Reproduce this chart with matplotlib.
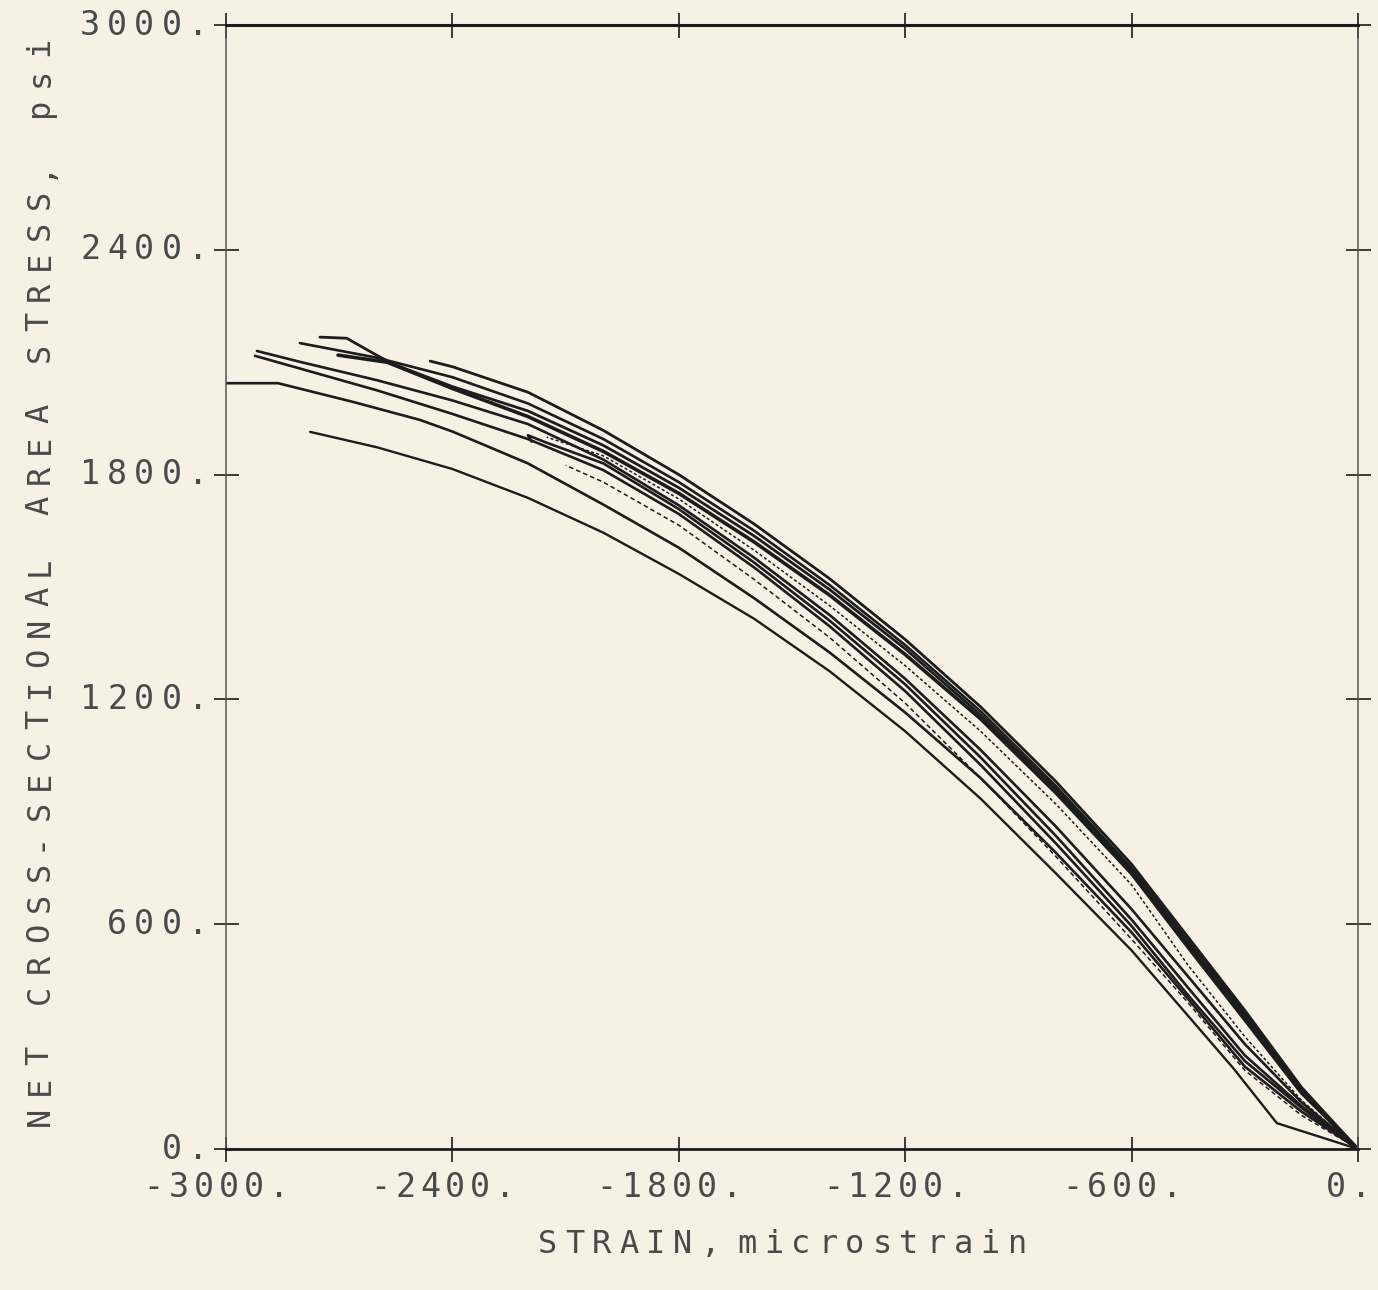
import matplotlib
matplotlib.use('Agg')
import matplotlib.pyplot as plt

# stress-strain curves, strain in microstrain, stress in psi
t1_strain = [0, -150, -300, -450, -600, -800, -1000, -1200, -1400, -1600, -1800, -2000, -2200, -2400, -2459]
t1_stress = [0, 165, 370, 565, 760, 980, 1180, 1360, 1522, 1668, 1800, 1918, 2020, 2088, 2103]

e2_strain = [0, -150, -300, -450, -600, -800, -1000, -1200, -1400, -1600, -1800, -2000, -2200, -2400, -2600, -2804]
e2_stress = [0, 160, 362, 555, 750, 968, 1168, 1345, 1505, 1650, 1780, 1895, 1990, 2060, 2112, 2151]

e1_strain = [0, -150, -300, -450, -600, -800, -1000, -1200, -1400, -1600, -1800, -2000, -2200, -2400, -2557, -2610, -2680, -2751]
e1_stress = [0, 155, 355, 548, 742, 960, 1158, 1335, 1493, 1636, 1765, 1878, 1970, 2035, 2095, 2124, 2164, 2167]

e7_strain = [0, -150, -300, -450, -600, -800, -1000, -1200, -1400, -1600, -1800, -2000, -2200, -2400, -2573, -2703]
e7_stress = [0, 150, 345, 538, 735, 950, 1148, 1320, 1478, 1620, 1750, 1862, 1955, 2030, 2100, 2119]

d1_strain = [0, -150, -300, -450, -600, -800, -1000, -1200, -1400, -1600, -1800, -2000, -2150]
d1_stress = [0, 130, 300, 490, 705, 920, 1115, 1290, 1450, 1598, 1735, 1850, 1900]

e3_strain = [0, -150, -300, -450, -600, -800, -1000, -1200, -1400, -1600, -1800, -2000, -2200, -2400, -2600, -2800, -2918]
e3_stress = [0, 125, 280, 460, 640, 860, 1065, 1255, 1425, 1578, 1718, 1840, 1935, 1998, 2052, 2100, 2130]

h_strain = [0, -150, -300, -450, -600, -800, -1000, -1200, -1400, -1600, -1800, -2000, -2150, -2200, -2190]
h_stress = [0, 115, 250, 430, 612, 835, 1045, 1240, 1410, 1565, 1708, 1830, 1885, 1905, 1888]

e4_strain = [0, -150, -300, -450, -600, -800, -1000, -1200, -1400, -1600, -1800, -2000, -2200, -2400, -2600, -2800, -2923]
e4_stress = [0, 110, 235, 410, 595, 815, 1025, 1222, 1395, 1552, 1695, 1812, 1895, 1962, 2025, 2082, 2117]

d2_strain = [0, -150, -300, -450, -600, -800, -1000, -1200, -1400, -1600, -1800, -2000, -2100]
d2_stress = [0, 90, 210, 390, 560, 780, 990, 1190, 1365, 1520, 1665, 1780, 1825]

e5_strain = [0, -150, -300, -450, -600, -800, -1000, -1200, -1400, -1600, -1800, -2000, -2200, -2400, -2486, -2663, -2862, -3100]
e5_stress = [0, 100, 220, 400, 578, 790, 990, 1165, 1325, 1470, 1605, 1720, 1830, 1915, 1946, 1994, 2044, 2044]

e6_strain = [0, -215, -330, -450, -600, -800, -1000, -1200, -1400, -1600, -1800, -2000, -2200, -2400, -2600, -2777]
e6_stress = [0, 69, 215, 355, 530, 735, 935, 1115, 1275, 1415, 1535, 1645, 1738, 1815, 1873, 1914]

xticks = [-3000, -2400, -1800, -1200, -600, 0]
xtick_labels = ['-3000.', '-2400.', '-1800.', '-1200.', '-600.', '0.']
yticks = [0, 600, 1200, 1800, 2400, 3000]
ytick_labels = ['0.', '600.', '1200.', '1800.', '2400.', '3000.']

paper = '#f6f1e4'
ink = '#1c1c1c'
text_col = '#4a4a4a'
font = 'DejaVu Sans Mono'


def spaced(ax, s, xy, coords, dx, dy, step, size, rotation=0, right=False, space=0.35):
    # plotter lettering: every character in its own cell (offsets in points)
    widths = [space if ch == ' ' else 1.0 for ch in s]
    total = sum(widths)
    pos = 0.0
    for ch, w in zip(s, widths):
        c = pos + w / 2
        pos += w
        if ch == ' ':
            continue
        off = (c - total) * step if right else (c - total / 2) * step
        if rotation == 0:
            xt, yt = dx + off, dy
        else:
            xt, yt = dx, dy + off
        ax.annotate(ch, xy=xy, xycoords=coords, xytext=(xt, yt),
                    textcoords='offset points', ha='center', va='center',
                    rotation=rotation, fontsize=size, family=font,
                    color=text_col, annotation_clip=False)


fig = plt.figure(figsize=(13.78, 12.9), dpi=100, facecolor=paper)
ax = fig.add_axes([0.164, 0.1093, 0.8215, 0.8713])
ax.set_facecolor(paper)

curves = [
    (t1_strain, t1_stress, '-', 2.0),
    (e2_strain, e2_stress, '-', 1.9),
    (e1_strain, e1_stress, '-', 2.0),
    (e7_strain, e7_stress, '-', 2.6),
    (d1_strain, d1_stress, (0, (2, 1.5)), 1.1),
    (e3_strain, e3_stress, '-', 1.9),
    (h_strain, h_stress, '-', 1.9),
    (e4_strain, e4_stress, '-', 1.9),
    (d2_strain, d2_stress, (0, (3, 2)), 1.1),
    (e5_strain, e5_stress, '-', 1.9),
    (e6_strain, e6_stress, '-', 1.7),
]
for xs, ys, ls, lw in curves:
    ax.plot(xs, ys, color=ink, linestyle=ls, linewidth=lw,
            solid_capstyle='round', solid_joinstyle='round')

ax.set_xlim(-3000, 0)
ax.set_ylim(0, 3000)
ax.set_xticks(xticks)
ax.set_yticks(yticks)
ax.tick_params(direction='inout', length=18, width=1.2, color=ink,
               top=True, right=True, labelbottom=False, labelleft=False)

ax.spines['top'].set_linewidth(2.2)
ax.spines['bottom'].set_linewidth(2.0)
ax.spines['left'].set_linewidth(1.1)
ax.spines['right'].set_linewidth(1.1)
ax.spines['top'].set_color(ink)
ax.spines['bottom'].set_color(ink)
ax.spines['left'].set_color('#555555')
ax.spines['right'].set_color('#555555')

# tick labels, drawn cell by cell like the pen plotter did
for v, lab in zip(xticks, xtick_labels):
    spaced(ax, lab, (v, 0), 'data', -7, -28, 18, 24, space=1.0)
for v, lab in zip(yticks, ytick_labels):
    spaced(ax, lab, (-3000, v), 'data', -10, 0, 19.5, 24, right=True, space=1.0)

# axis titles
spaced(ax, 'STRAIN, microstrain', (0.5, 0), 'axes fraction', -7, -69, 19.5, 23)
spaced(ax, 'NET CROSS-SECTIONAL AREA STRESS, psi', (0, 0.5), 'axes fraction', -134, 4, 22, 23,
       rotation=90, space=1.0)

fig.savefig('out.png', dpi=100, facecolor=paper)
